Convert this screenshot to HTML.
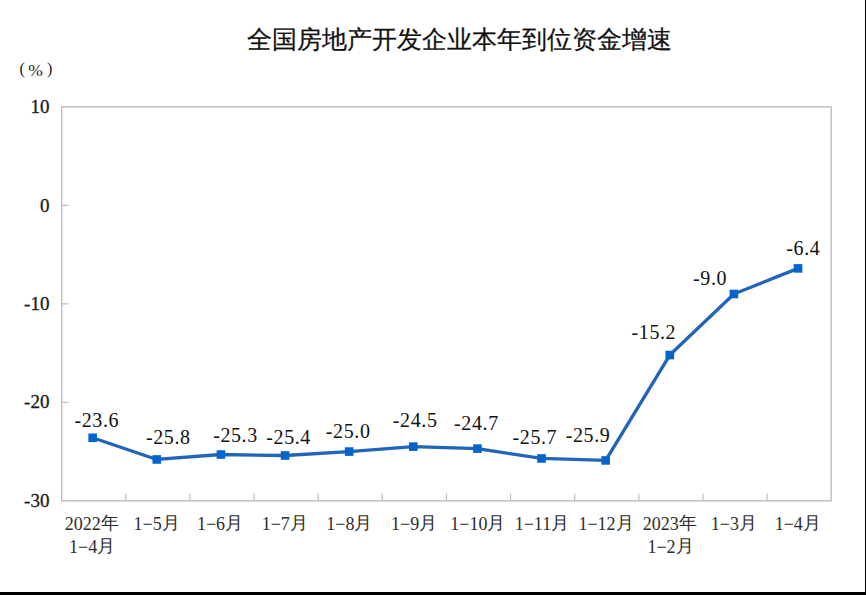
<!DOCTYPE html>
<html><head><meta charset="utf-8"><style>
html,body{margin:0;padding:0;background:#fff;}
body{width:866px;height:595px;overflow:hidden;position:relative;}
svg{position:absolute;left:0;top:0;}
.yl{font-family:"Liberation Serif",serif;font-size:19px;fill:#1a1a1a;stroke:#1a1a1a;stroke-width:0.3px;}
.dl{font-family:"Liberation Serif",serif;font-size:20px;fill:#111;letter-spacing:0.6px;}
.xl{font-family:"Liberation Serif",serif;font-size:18px;fill:#2d2d2d;}
.tt{font-family:"Liberation Sans",sans-serif;font-size:24.5px;fill:#111;stroke:#111;stroke-width:0.25px;}
.pc{font-family:"Liberation Serif",serif;font-size:16px;fill:#222;}
.bd{position:absolute;background:#000;}
</style></head><body>
<svg width="866" height="595" viewBox="0 0 866 595">
<rect x="61.7" y="106.9" width="769.50" height="393.90" fill="none" stroke="#bdbdbd" stroke-width="1.4"/>
<line x1="61.7" y1="205.38" x2="68.7" y2="205.38" stroke="#bdbdbd" stroke-width="1.2"/>
<line x1="61.7" y1="303.85" x2="68.7" y2="303.85" stroke="#bdbdbd" stroke-width="1.2"/>
<line x1="61.7" y1="402.33" x2="68.7" y2="402.33" stroke="#bdbdbd" stroke-width="1.2"/>
<line x1="125.83" y1="500.8" x2="125.83" y2="493.8" stroke="#bdbdbd" stroke-width="1.2"/>
<line x1="189.95" y1="500.8" x2="189.95" y2="493.8" stroke="#bdbdbd" stroke-width="1.2"/>
<line x1="254.07" y1="500.8" x2="254.07" y2="493.8" stroke="#bdbdbd" stroke-width="1.2"/>
<line x1="318.20" y1="500.8" x2="318.20" y2="493.8" stroke="#bdbdbd" stroke-width="1.2"/>
<line x1="382.32" y1="500.8" x2="382.32" y2="493.8" stroke="#bdbdbd" stroke-width="1.2"/>
<line x1="446.45" y1="500.8" x2="446.45" y2="493.8" stroke="#bdbdbd" stroke-width="1.2"/>
<line x1="510.57" y1="500.8" x2="510.57" y2="493.8" stroke="#bdbdbd" stroke-width="1.2"/>
<line x1="574.70" y1="500.8" x2="574.70" y2="493.8" stroke="#bdbdbd" stroke-width="1.2"/>
<line x1="638.83" y1="500.8" x2="638.83" y2="493.8" stroke="#bdbdbd" stroke-width="1.2"/>
<line x1="702.95" y1="500.8" x2="702.95" y2="493.8" stroke="#bdbdbd" stroke-width="1.2"/>
<line x1="767.08" y1="500.8" x2="767.08" y2="493.8" stroke="#bdbdbd" stroke-width="1.2"/>
<text x="49.4" y="112.5" text-anchor="end" class="yl">10</text>
<text x="49.4" y="211.5" text-anchor="end" class="yl">0</text>
<text x="49.4" y="309.5" text-anchor="end" class="yl">-10</text>
<text x="49.4" y="408.0" text-anchor="end" class="yl">-20</text>
<text x="49.4" y="506.5" text-anchor="end" class="yl">-30</text>
<polyline fill="none" stroke="#2065ba" stroke-width="3.3" stroke-linejoin="round" points="92.66,437.78 156.79,459.44 220.91,454.52 285.04,455.50 349.16,451.56 413.29,446.64 477.41,448.61 541.54,458.46 605.66,460.43 669.79,355.06 733.91,294.00 798.04,268.40"/>
<rect x="88.36" y="433.48" width="8.6" height="8.6" fill="#0565cc"/>
<rect x="152.49" y="455.14" width="8.6" height="8.6" fill="#0565cc"/>
<rect x="216.61" y="450.22" width="8.6" height="8.6" fill="#0565cc"/>
<rect x="280.74" y="451.20" width="8.6" height="8.6" fill="#0565cc"/>
<rect x="344.86" y="447.26" width="8.6" height="8.6" fill="#0565cc"/>
<rect x="408.99" y="442.34" width="8.6" height="8.6" fill="#0565cc"/>
<rect x="473.11" y="444.31" width="8.6" height="8.6" fill="#0565cc"/>
<rect x="537.24" y="454.16" width="8.6" height="8.6" fill="#0565cc"/>
<rect x="601.36" y="456.13" width="8.6" height="8.6" fill="#0565cc"/>
<rect x="665.49" y="350.76" width="8.6" height="8.6" fill="#0565cc"/>
<rect x="729.61" y="289.70" width="8.6" height="8.6" fill="#0565cc"/>
<rect x="793.74" y="264.10" width="8.6" height="8.6" fill="#0565cc"/>
<text x="96.80" y="426.80" text-anchor="middle" class="dl">-23.6</text>
<text x="168.35" y="443.70" text-anchor="middle" class="dl">-25.8</text>
<text x="235.50" y="442.35" text-anchor="middle" class="dl">-25.3</text>
<text x="288.65" y="444.20" text-anchor="middle" class="dl">-25.4</text>
<text x="348.20" y="437.55" text-anchor="middle" class="dl">-25.0</text>
<text x="415.20" y="426.65" text-anchor="middle" class="dl">-24.5</text>
<text x="476.45" y="430.05" text-anchor="middle" class="dl">-24.7</text>
<text x="534.90" y="443.95" text-anchor="middle" class="dl">-25.7</text>
<text x="588.10" y="441.95" text-anchor="middle" class="dl">-25.9</text>
<text x="653.90" y="338.86" text-anchor="middle" class="dl">-15.2</text>
<text x="710.05" y="284.55" text-anchor="middle" class="dl">-9.0</text>
<text x="803.40" y="255.30" text-anchor="middle" class="dl">-6.4</text>
<text x="91.76" y="530.0" text-anchor="middle" class="xl">2022<tspan dy="-0.9">年</tspan></text>
<text x="92.16" y="552.5" text-anchor="middle" class="xl">1−4<tspan dy="-0.9">月</tspan></text>
<text x="156.59" y="530.0" text-anchor="middle" class="xl">1−5<tspan dy="-0.9">月</tspan></text>
<text x="220.01" y="530.0" text-anchor="middle" class="xl">1−6<tspan dy="-0.9">月</tspan></text>
<text x="284.74" y="530.0" text-anchor="middle" class="xl">1−7<tspan dy="-0.9">月</tspan></text>
<text x="349.36" y="530.0" text-anchor="middle" class="xl">1−8<tspan dy="-0.9">月</tspan></text>
<text x="414.09" y="530.0" text-anchor="middle" class="xl">1−9<tspan dy="-0.9">月</tspan></text>
<text x="477.91" y="530.0" text-anchor="middle" class="xl">1−10<tspan dy="-0.9">月</tspan></text>
<text x="541.94" y="530.0" text-anchor="middle" class="xl">1−11<tspan dy="-0.9">月</tspan></text>
<text x="605.96" y="530.0" text-anchor="middle" class="xl">1−12<tspan dy="-0.9">月</tspan></text>
<text x="669.69" y="530.0" text-anchor="middle" class="xl">2023<tspan dy="-0.9">年</tspan></text>
<text x="670.49" y="552.5" text-anchor="middle" class="xl">1−2<tspan dy="-0.9">月</tspan></text>
<text x="733.91" y="530.0" text-anchor="middle" class="xl">1−3<tspan dy="-0.9">月</tspan></text>
<text x="797.74" y="530.0" text-anchor="middle" class="xl">1−4<tspan dy="-0.9">月</tspan></text>
<text x="459.5" y="48" text-anchor="middle" class="tt">全国房地产开发企业本年到位资金增速</text>
<text x="19.5" y="74" class="pc">(</text><text x="28.2" y="76.4" class="pc" style="font-size:17.5px">%</text><text x="46.9" y="74" class="pc">)</text>
</svg>
<div class="bd" style="left:865px;top:0;width:1px;height:595px"></div>
<div class="bd" style="left:0;top:592px;width:866px;height:3px"></div>
</body></html>
